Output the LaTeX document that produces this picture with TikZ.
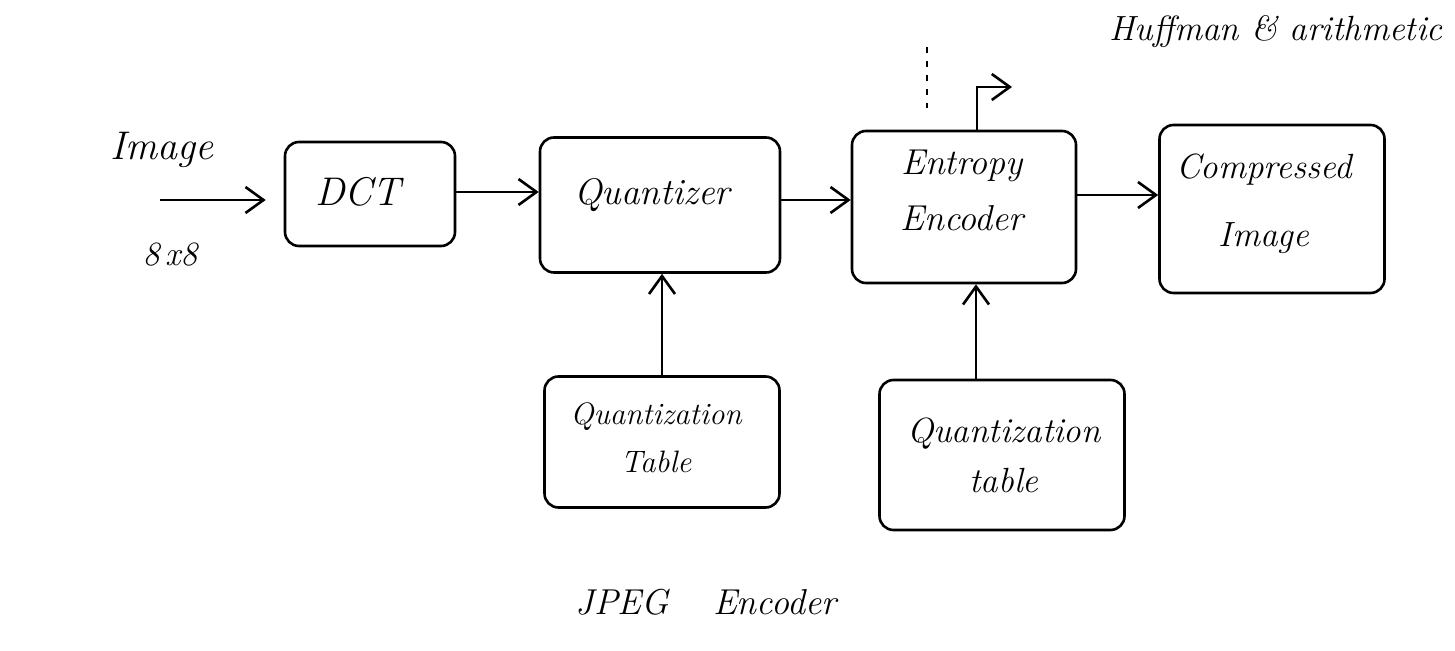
\documentclass[tikz,border=0pt]{standalone}
\usetikzlibrary{arrows.meta}
\begin{document}
\begin{tikzpicture}[x=0.5pt,y=-0.5pt,
  box/.style={draw, line width=1.3pt, rounded corners=7pt, minimum width=#1},
  lbl/.style={font=\fontsize{18}{28}\selectfont\itshape, align=center, inner sep=0pt},
  arr/.style={line width=1.3pt, -{Straight Barb[length=9pt,width=13pt,line width=1.3pt]}},
  plain/.style={line width=1.3pt}]
\useasboundingbox (0,0) rectangle (1455,651);
% boxes
\node[box=85pt, minimum height=52pt] (dct) at (370,194) {};
\node[box=120pt, minimum height=67.5pt] (quant) at (660,205) {};
\node[box=112pt, minimum height=76pt] (ent) at (964,207) {};
\node[box=112.5pt, minimum height=84pt] (comp) at (1272,209) {};
\node[box=117.5pt, minimum height=65.5pt] (qtl) at (662,442) {};
\node[box=122.5pt, minimum height=75pt] (qtr) at (1002,455) {};
% labels
\node[lbl, font=\fontsize{20}{24}\selectfont\itshape] (imglbl) at (162,150) {Image};
\node[lbl, font=\fontsize{17}{20}\selectfont\itshape] (eightlbl) at (170,255) {8\,x8};
\node[lbl, font=\fontsize{20}{24}\selectfont\itshape] (dctlbl) at (358,192) {DCT};
\node[lbl, font=\fontsize{18.5}{24}\selectfont\itshape] (quantlbl) at (652,195) {Quantizer};
\node[lbl, font=\fontsize{18}{28}\selectfont\itshape] (entlbl) at (962,190) {Entropy\\Encoder};
\node[lbl, font=\fontsize{17.5}{34}\selectfont\itshape] (complbl) at (1264,204) {Compressed\\Image};
\node[lbl, font=\fontsize{15.5}{24}\selectfont\itshape] (qtllbl) at (656,438) {Quantization\\Table};
\node[lbl, font=\fontsize{17.5}{25}\selectfont\itshape] (qtrlbl) at (1004,455) {Quantization\\table};
\node[lbl, font=\fontsize{17.5}{20}\selectfont\itshape] (huflbl) at (1276,32) {Huffman \& arithmetic};
\node[lbl, font=\fontsize{18}{20}\selectfont\itshape] (jpeglbl) at (706,602) {JPEG\hspace{22pt}Encoder};
% connectors
\coordinate (imgin) at (160,200);
\draw[arr] (imgin) -- ([xshift=-9pt]dct.west |- imgin);
\draw[arr] ([yshift=1pt]dct.east) -- ([yshift=1pt]dct.east -| quant.west);
\draw[arr] ([yshift=2.5pt]quant.east) -- ([yshift=2.5pt]quant.east -| ent.west);
\draw[arr] ([yshift=6pt]ent.east) -- ([yshift=6pt]ent.east -| comp.west);
\draw[arr] (qtl.north) -- (qtl.north |- quant.south);
\draw[arr] ([xshift=-13pt]qtr.north) -- ([xshift=-13pt]qtr.north |- ent.south);
\coordinate (hufend) at (1012,87);
\draw[arr] ([xshift=6.5pt]ent.north) |- (hufend);
\coordinate (dot1) at (927,47);
\coordinate (dot2) at (927,108);
\draw[line width=0.9pt, dash pattern=on 3pt off 4pt] (dot1) -- (dot2);
\end{tikzpicture}
\end{document}
